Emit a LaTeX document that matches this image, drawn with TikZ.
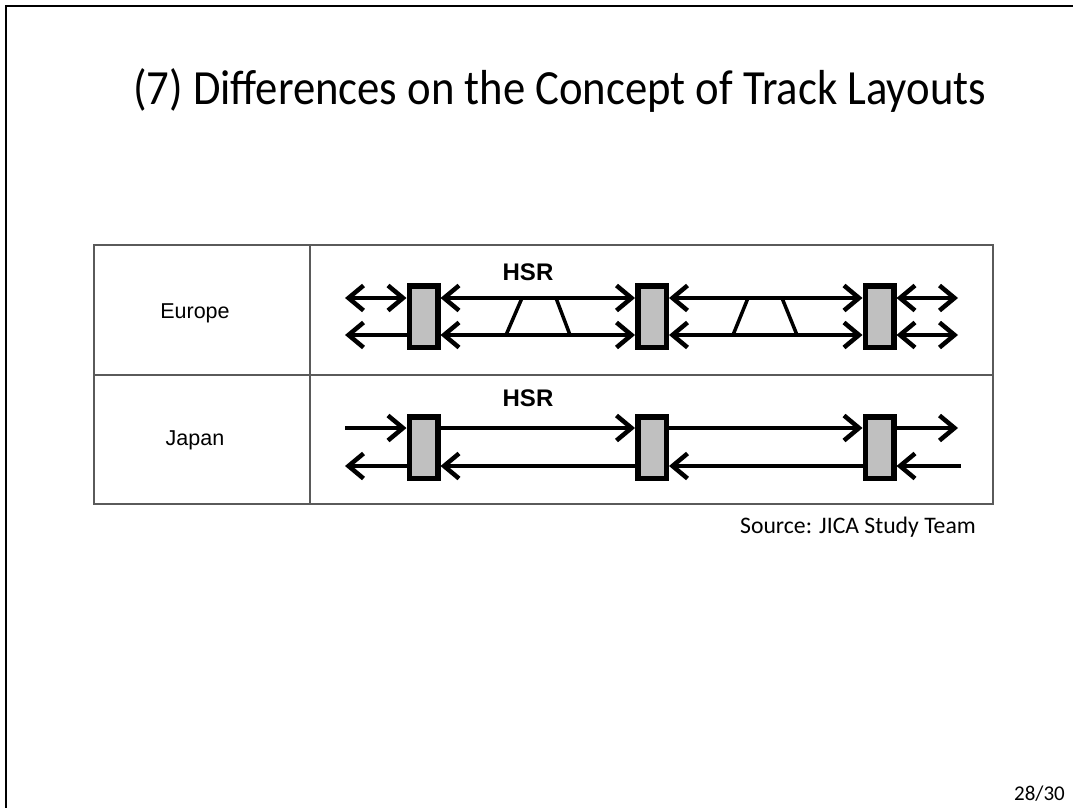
\documentclass[tikz,border=0pt]{standalone}
\usepackage{fontspec}
\setmainfont{Carlito}
\newfontfamily\arialf{Liberation Sans}
\usetikzlibrary{arrows.meta}
\definecolor{stgray}{RGB}{192,192,192}
\definecolor{tblline}{RGB}{90,90,90}
\tikzset{
  px/.style={x=1pt,y=-1pt},
  station/.style={draw=black,line width=5.5pt,fill=stgray,minimum width=28.5pt,minimum height=61.5pt,inner sep=0pt},
  trk/.style={line width=4.5pt,arrows={-},
    >={Straight Barb[length=15pt,width=25pt]}},
  xover/.style={line width=3.5pt},
  tbl/.style={draw=tblline,line width=1.2pt},
  rowlabel/.style={font=\arialf\fontsize{21.5}{25}\selectfont},
  hsrlabel/.style={font=\arialf\bfseries\fontsize{24}{28}\selectfont},
  frame/.style={line width=2.5pt,line cap=rect},
}
\begin{document}
\begin{tikzpicture}[px]
\useasboundingbox[fill=white] (0,0) rectangle (1073,808);
% slide frame
\coordinate (ftl) at (6,6);
\coordinate (ftr) at (1073,6);
\coordinate (fbl) at (6,808);
\draw[frame] (fbl) -- (ftl) -- (ftr);
% title
\node[anchor=base west,inner sep=0pt,font=\fontsize{44.7}{50}\selectfont] (title) at (133,104) {\scalebox{1}[1.1]{(7) Differences on the Concept of Track Layouts}};
% table
\draw[tbl] (94,245) rectangle (993,504);
\draw[tbl] (94,375) -- (993,375);
\draw[tbl] (310,245) -- (310,504);
\node[rowlabel] (eur) at (195,313) {Europe};
\node[rowlabel] (jap) at (195,440) {Japan};
\node[hsrlabel] (hsr1) at (528,272) {HSR};
\node[hsrlabel] (hsr2) at (528,398) {HSR};
% stations
\node[station] (e1) at (423.5,316.5) {};
\node[station] (e2) at (652,316.5) {};
\node[station] (e3) at (879.5,316.5) {};
\node[station] (j1) at (423.5,447.5) {};
\node[station] (j2) at (652,447.5) {};
\node[station] (j3) at (879.5,447.5) {};
% free ends
\coordinate (eul) at (345,298);
\coordinate (ell) at (345,335);
\coordinate (eur) at (958,298);
\coordinate (elr) at (958,335);
\coordinate (jul) at (345,428);
\coordinate (jll) at (345,466);
\coordinate (jur) at (958,428);
\coordinate (jlr) at (961,466);
% Europe tracks
\draw[trk,<->] (eul) -- (eul -| e1.west);
\draw[trk,<-] (ell) -- (ell -| e1.west);
\draw[trk,<->] (eul -| e1.east) -- (eul -| e2.west);
\draw[trk,<->] (ell -| e1.east) -- (ell -| e2.west);
\draw[trk,<->] (eul -| e2.east) -- (eul -| e3.west);
\draw[trk,<->] (ell -| e2.east) -- (ell -| e3.west);
\draw[trk,<->] (eul -| e3.east) -- (eur);
\draw[trk,<->] (ell -| e3.east) -- (elr);
% crossovers
\coordinate (x1a) at (506,335); \coordinate (x1b) at (522,298);
\coordinate (x1c) at (556,298); \coordinate (x1d) at (570,335);
\coordinate (x2a) at (733,335); \coordinate (x2b) at (748,298);
\coordinate (x2c) at (782,298); \coordinate (x2d) at (797,335);
\draw[xover] (x1a) -- (x1b);
\draw[xover] (x1c) -- (x1d);
\draw[xover] (x2a) -- (x2b);
\draw[xover] (x2c) -- (x2d);
% Japan tracks
\draw[trk,->] (jul) -- (jul -| j1.west);
\draw[trk,<-] (jll) -- (jll -| j1.west);
\draw[trk,->] (jul -| j1.east) -- (jul -| j2.west);
\draw[trk,<-] (jll -| j1.east) -- (jll -| j2.west);
\draw[trk,->] (jul -| j2.east) -- (jul -| j3.west);
\draw[trk,<-] (jll -| j2.east) -- (jll -| j3.west);
\draw[trk,->] (jul -| j3.east) -- (jur);
\draw[trk,<-] (jll -| j3.east) -- (jlr);
% source and page
\node[anchor=base east,inner sep=0pt,font=\fontsize{23.7}{27}\selectfont] (src) at (976,533) {Source: JICA Study Team};
\node[anchor=base east,inner sep=0pt,font=\fontsize{21}{25}\selectfont] (pg) at (1065,800) {28/30};
\end{tikzpicture}
\end{document}
